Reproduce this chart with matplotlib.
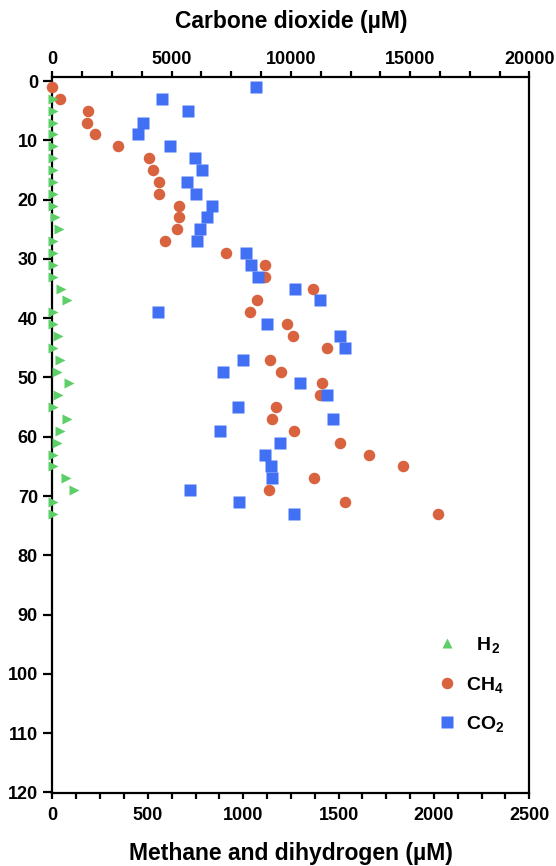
import matplotlib
matplotlib.use("Agg")
import matplotlib.pyplot as plt
from matplotlib.lines import Line2D
from matplotlib.ticker import MultipleLocator

plt.rcParams['font.family'] = ['Liberation Sans', 'DejaVu Sans']
plt.rcParams['font.weight'] = 'bold'
plt.rcParams['mathtext.fontset'] = 'custom'
plt.rcParams['mathtext.rm'] = 'Liberation Sans:bold'
plt.rcParams['mathtext.bf'] = 'Liberation Sans:bold'
plt.rcParams['mathtext.it'] = 'Liberation Sans:bold'

# depth (every 2 units)
depth = [1, 3, 5, 7, 9, 11, 13, 15, 17, 19, 21, 23, 25, 27, 29, 31, 33, 35, 37,
         39, 41, 43, 45, 47, 49, 51, 53, 55, 57, 59, 61, 63, 65, 67, 69, 71, 73]

# methane (uM)
ch4 = [0, 39, 187, 181, 224, 343, 504, 526, 559, 558, 664, 664, 652, 589, 908,
       1116, 1116, 1365, 1074, 1034, 1231, 1259, 1441, 1139, 1200, 1415, 1401,
       1174, 1153, 1266, 1505, 1657, 1837, 1371, 1135, 1535, 2022]

# carbon dioxide (uM)
co2 = [8524, 4586, 5675, 3791, 3569, 4921, 5998, 6291, 5634, 6010, 6710, 6501,
       6178, 6082, 8134, 8314, 8607, 10186, 11233, 4406, 9013, 12071, 12251,
       8008, 7171, 10396, 11527, 7799, 11778, 7016, 9529, 8901, 9152, 9194,
       5759, 7811, 10115]

# dihydrogen (uM), no value at the first depth
h2_depth = depth[1:]
h2 = [2, 2, 2, 2, 2, 2, 2, 2, 2, 2, 13, 32, 2, 2, 2, 2, 43, 78, 2, 2, 29, 2,
      42, 25, 86, 30, 2, 74, 38, 22, 2, 2, 71, 111, 2, 2]

green = '#5ccf68'
red = '#d9623f'
blue = '#4270f4'

fig = plt.figure(figsize=(5.56, 8.66), dpi=100)
ax = fig.add_axes([0.0944, 0.0843, 0.8576, 0.8268])
ax2 = ax.twiny()

ax.plot(ch4, depth, 'o', color=red, ms=8.3, mec='none', zorder=3, clip_on=False)
ax.plot(h2, h2_depth, '>', color=green, ms=7, mec='none', zorder=4, clip_on=False)
ax2.plot(co2, depth, 's', color=blue, ms=8.6, mec='none', zorder=3, clip_on=False)

ax.set_ylim(120.1, -0.7)
ax.set_xlim(0, 2500)
ax2.set_xlim(0, 20000)

ax.yaxis.set_major_locator(MultipleLocator(10))
ax.xaxis.set_major_locator(MultipleLocator(500))
ax.xaxis.set_minor_locator(MultipleLocator(125))
ax2.xaxis.set_major_locator(MultipleLocator(5000))
ax2.xaxis.set_minor_locator(MultipleLocator(1250))

for a in (ax, ax2):
    for s in a.spines.values():
        s.set_linewidth(1.6)
ax.spines['top'].set_visible(False)
for s in ('left', 'right', 'bottom'):
    ax2.spines[s].set_visible(False)

ax.tick_params(axis='y', length=6.5, width=1.6, pad=4, labelsize=13)
ax.tick_params(axis='x', which='both', length=4.3, width=1.6, pad=6, labelsize=13)
ax2.tick_params(axis='x', which='both', length=4.3, width=1.6, pad=2, labelsize=13)

ax.set_xlabel('Methane and dihydrogen (µM)', fontsize=16.5, fontweight='bold', labelpad=13)
ax2.set_xlabel('Carbone dioxide (µM)', fontsize=16.5, fontweight='bold', labelpad=17)

handles = [
    Line2D([], [], marker='^', color=green, ls='none', ms=7, mec='none'),
    Line2D([], [], marker='o', color=red, ls='none', ms=8.3, mec='none'),
    Line2D([], [], marker='s', color=blue, ls='none', ms=8.6, mec='none'),
]
labels = [r'  $\mathbf{H_2}$', r'$\mathbf{CH_4}$', r'$\mathbf{CO_2}$']
ax2.legend(handles, labels, loc='upper left', bbox_to_anchor=(0.77, 0.245),
           frameon=False, fontsize=14, labelspacing=1.0, handletextpad=0.5,
           handlelength=1.0)

fig.savefig('out.png', dpi=100)
